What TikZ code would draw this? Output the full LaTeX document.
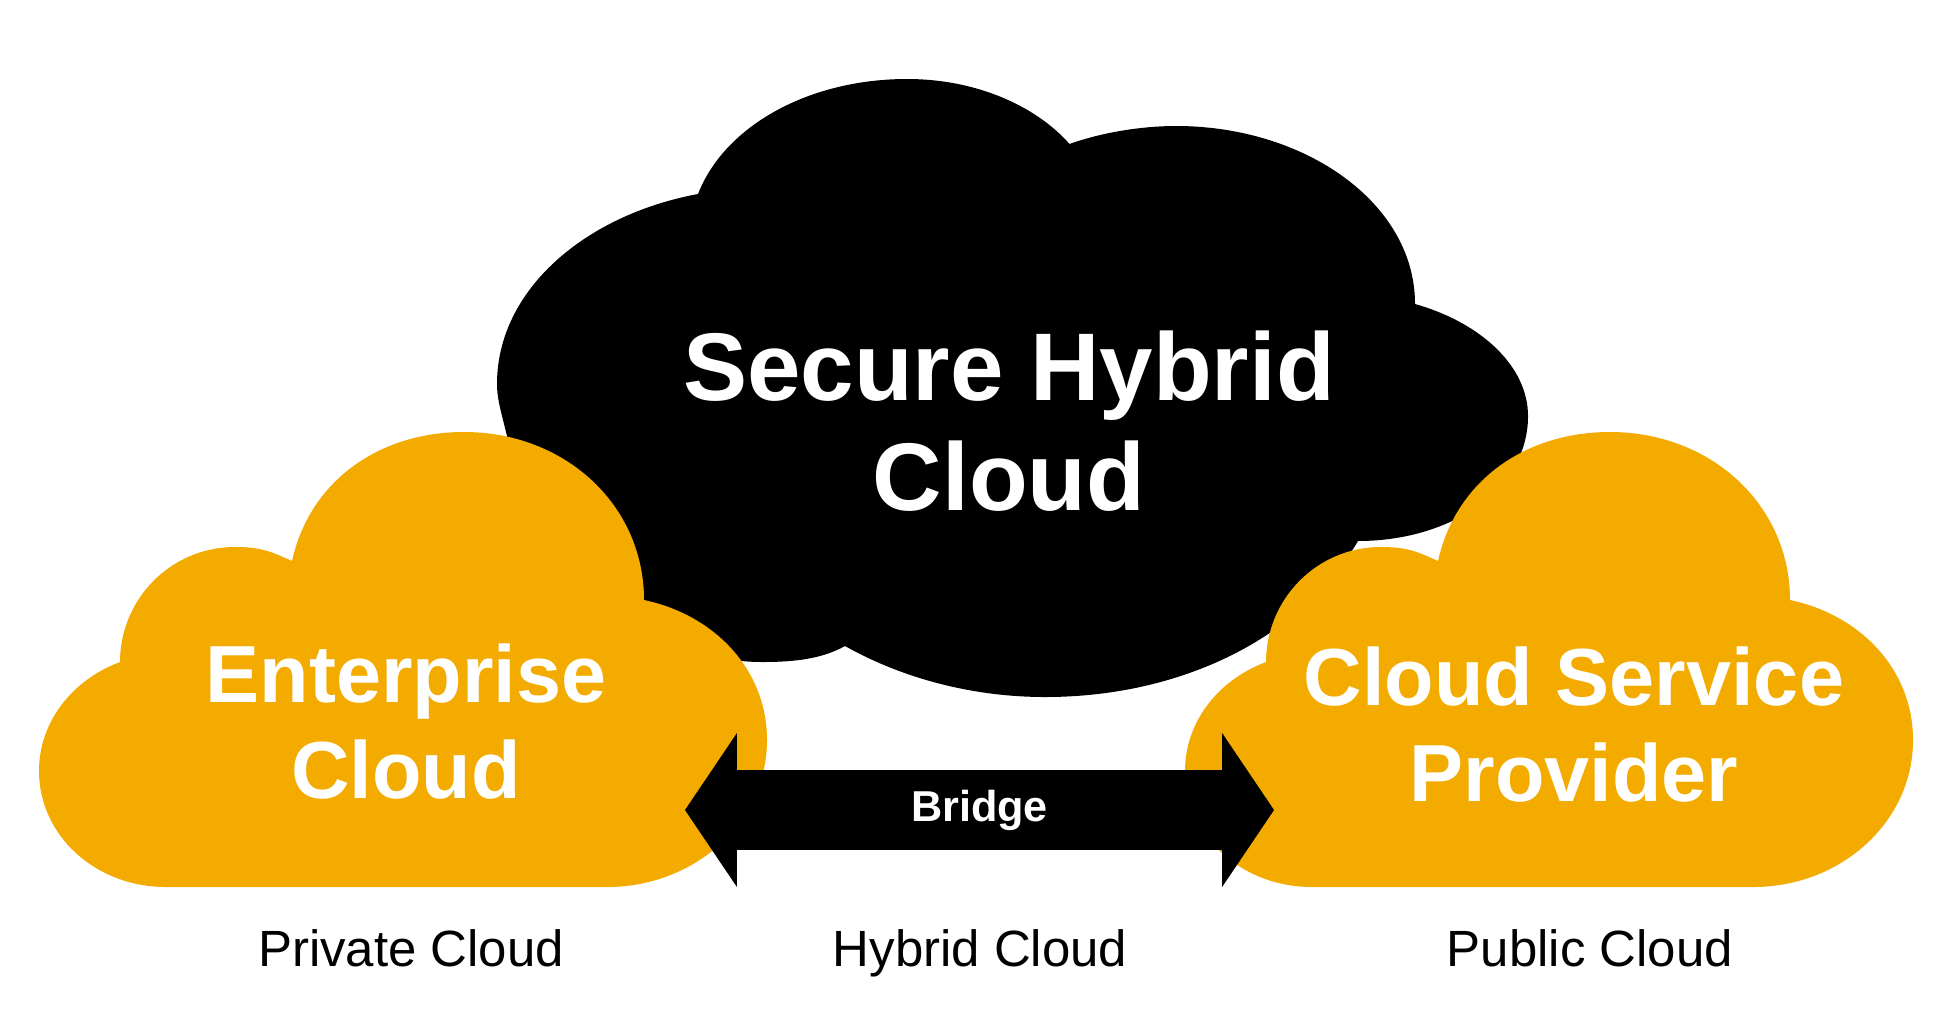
\documentclass[tikz,border=0pt]{standalone}
\usepackage{fontspec}
\setmainfont{Liberation Sans}
\usetikzlibrary{shapes.arrows}
\definecolor{cloudorange}{HTML}{F3AB00}
\tikzset{
  cloudtitle/.style={text=white, font=\bfseries\fontsize{23.05}{27.3}\selectfont, align=center},
  hugetitle/.style={text=white, font=\bfseries\fontsize{27.35}{31.3}\selectfont, align=center},
  bridgearrow/.style={double arrow, fill=black, text=white, inner sep=0, outer sep=0,
    font=\bfseries\fontsize{12.3}{14}\selectfont, minimum height=5.89cm, minimum width=1.54cm,
    double arrow head extend=0.196cm, double arrow tip angle=112},
  kindlabel/.style={anchor=base, font=\fontsize{14.5}{17}\selectfont}
}
\def\smallcloud{(1.66,1.48) -- (6.07,1.48)
  .. controls (6.95,1.48) and (7.67,2.13) .. (7.67,2.95)
  .. controls (7.67,3.65) and (7.15,4.20) .. (6.44,4.35)
  .. controls (6.44,5.30) and (5.65,6.03) .. (4.64,6.03)
  .. controls (3.80,6.03) and (3.10,5.55) .. (2.92,4.74)
  .. controls (2.72,4.83) and (2.62,4.88) .. (2.35,4.88)
  .. controls (1.70,4.88) and (1.20,4.35) .. (1.20,3.73)
  .. controls (0.72,3.55) and (0.39,3.13) .. (0.39,2.64)
  .. controls (0.39,2.00) and (0.95,1.48) .. (1.66,1.48) -- cycle}
\begin{document}
\begin{tikzpicture}
\useasboundingbox (0,0) rectangle (19.38,10.35);

% Draw the big cloud behind the others
\fill[black] (6.98,8.41)
  .. controls (7.25,9.10) and (8.10,9.56) .. (9.07,9.56)
  .. controls (9.75,9.56) and (10.35,9.30) .. (10.695,8.91)
  .. controls (11.00,9.02) and (11.40,9.09) .. (11.76,9.09)
  .. controls (13.05,9.09) and (14.15,8.32) .. (14.15,7.31)
  .. controls (14.82,7.12) and (15.28,6.68) .. (15.28,6.19)
  .. controls (15.28,5.45) and (14.50,4.94) .. (13.58,4.94)
  .. controls (13.00,3.96) and (11.80,3.38) .. (10.45,3.38)
  .. controls (9.70,3.38) and (9.00,3.58) .. (8.45,3.89)
  .. controls (8.20,3.75) and (7.90,3.73) .. (7.62,3.73)
  .. controls (6.40,3.73) and (5.40,4.75) .. (5.07,5.99)
  .. controls (5.02,6.20) and (4.97,6.35) .. (4.97,6.51)
  .. controls (4.97,7.45) and (5.85,8.20) .. (6.98,8.41) -- cycle;
\node[hugetitle] (hybridtitle) at (10.09,6.14) {Secure Hybrid\\Cloud};

% Draw the two orange clouds
\fill[cloudorange] \smallcloud;
\fill[cloudorange, xshift=11.46cm] \smallcloud;
\node[cloudtitle] (enterprise) at (4.06,3.13) {Enterprise\\Cloud};
\node[cloudtitle] (provider) at (15.74,3.10) {Cloud Service\\Provider};

% Draw the bridge between them
\node[bridgearrow] (bridge) at (9.795,2.25) {Bridge};

% Labels under the clouds
\node[kindlabel] (privatelabel) at (4.11,0.69) {Private Cloud};
\node[kindlabel] (hybridlabel) at (9.80,0.69) {Hybrid Cloud};
\node[kindlabel] (publiclabel) at (15.90,0.69) {Public Cloud};
\end{tikzpicture}
\end{document}
